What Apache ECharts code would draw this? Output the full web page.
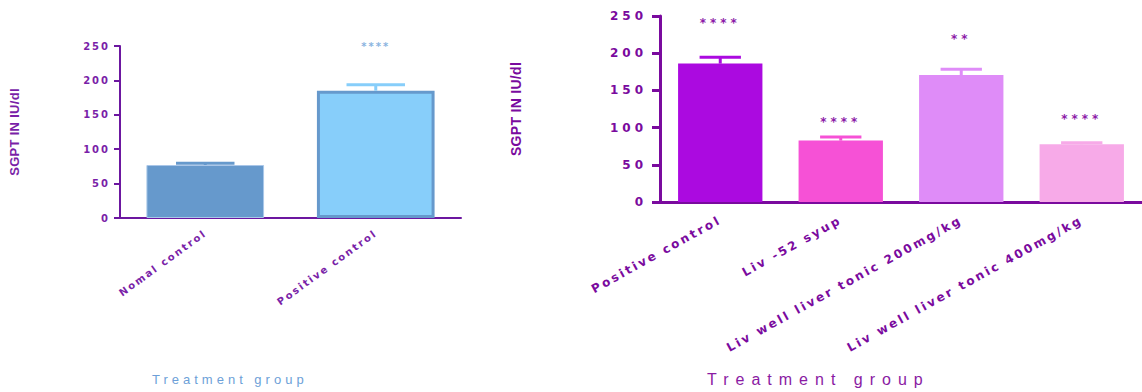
<!DOCTYPE html>
<html><head><meta charset="utf-8">
<script src="https://cdn.jsdelivr.net/npm/echarts@6/dist/echarts.min.js"></script>
<style>
html,body{margin:0;padding:0;background:#fff;width:1142px;height:392px;overflow:hidden;}
#left{position:absolute;left:0;top:0;width:480px;height:392px;letter-spacing:2px;}
#right{position:absolute;left:480px;top:0;width:662px;height:392px;letter-spacing:2.5px;}
</style></head><body>
<div id="left"></div><div id="right"></div>
<script>
// ---- data ----
const leftCategories = ['Nomal control', 'Positive control'];
const leftMeans = [77, 185];
const leftErrors = [2.6, 8.6];
const leftSig = ['', '****'];
const leftSigAt = [0, 250];

const rightCategories = ['Positive control', 'Liv -52 syup', 'Liv well liver tonic 200mg/kg', 'Liv well liver tonic 400mg/kg'];
const rightMeans = [186, 82.5, 170.7, 77.6];
const rightErrors = [8.5, 4.9, 7.7, 2.2];
const rightSig = ['****', '****', '**', '****'];
const rightSigAt = [241, 108, 219, 111];

const yMin = 0, yMax = 250, yStep = 50;
const yTitle = 'SGPT IN IU/dl';
const xTitle = 'Treatment group';

// ---- styles ----
const leftBarColors = ['#6699CC', '#87CEFA'];
const leftAxisColor = '#6c17a0';
const rightBarColors = ['#AB0AE0', '#F651D6', '#DF8CF8', '#F7AAE8'];
const rightAxisColor = '#7a0a9e';

function errRenderer(colors, lw, sigTexts, starColor, starFont) {
  return function (params, api) {
    const i = api.value(0), m = api.value(1), e = api.value(2), s = api.value(3);
    const base = api.coord([i, m]);
    const top = api.coord([i, m + e]);
    const half = api.size([1, 0])[0] * 0.7 * 0.245;
    const col = colors[i];
    const children = [
      { type: 'line', shape: { x1: base[0], y1: base[1], x2: top[0], y2: top[1] }, style: { stroke: col, lineWidth: lw } },
      { type: 'line', shape: { x1: top[0] - half, y1: top[1], x2: top[0] + half, y2: top[1] }, style: { stroke: col, lineWidth: lw } }
    ];
    if (sigTexts[i]) {
      const p = api.coord([i, s]);
      children.push({ type: 'text', x: p[0], y: p[1], style: { text: sigTexts[i], fill: starColor, font: starFont, align: 'center', verticalAlign: 'middle' } });
    }
    return { type: 'group', children };
  };
}

function applySpacing(el, rules) {
  el.querySelectorAll('text').forEach(t => {
    const s = t.textContent;
    for (const [test, sp] of rules) {
      if (test(s)) { t.style.letterSpacing = sp; break; }
    }
  });
}

// ---- left chart ----
const leftEl = document.getElementById('left');
const left = echarts.init(leftEl, null, { renderer: 'svg' });
left.setOption({
  animation: false,
  title: {
    text: xTitle, left: 152, top: 373, padding: 0,
    textStyle: { color: '#6d9fd8', fontSize: 13, fontWeight: 'normal', fontFamily: 'Liberation Sans' }
  },
  grid: { left: 118, right: 19, top: 46, bottom: 174 },
  xAxis: {
    type: 'category', data: leftCategories,
    axisLine: { lineStyle: { color: leftAxisColor, width: 2 } },
    axisTick: { alignWithLabel: true, length: 5, lineStyle: { color: leftAxisColor, width: 2 } },
    axisLabel: { rotate: 36, interval: 0, margin: 14, fontSize: 10, fontWeight: 'bold', fontFamily: 'DejaVu Sans', color: '#7a1fa8' }
  },
  yAxis: {
    type: 'value', min: yMin, max: yMax, interval: yStep,
    name: yTitle, nameLocation: 'middle', nameGap: 99, nameRotate: 90,
    nameTextStyle: { color: '#7a1fa8', fontSize: 13, fontWeight: 'bold', fontFamily: 'Liberation Sans' },
    splitLine: { show: false },
    axisLine: { show: true, lineStyle: { color: leftAxisColor, width: 2 } },
    axisTick: { show: true, length: 6, lineStyle: { color: leftAxisColor, width: 2 } },
    axisLabel: { margin: 10, fontSize: 10, fontWeight: 'bold', fontFamily: 'DejaVu Sans', color: '#7a1fa8' }
  },
  series: [
    {
      type: 'bar', barWidth: '69%',
      data: leftMeans.map((v, i) => ({
        value: v,
        itemStyle: i === 1
          ? { color: leftBarColors[1], borderColor: '#6699CC', borderWidth: 3 }
          : { color: leftBarColors[0], borderColor: '#a9c7e8', borderWidth: 1 }
      }))
    },
    {
      type: 'custom', z: 5,
      renderItem: errRenderer(leftBarColors, 3, leftSig, '#8ab4e0', 'bold 10px DejaVu Sans'),
      data: leftMeans.map((v, i) => [i, v, leftErrors[i], leftSigAt[i]])
    }
  ]
});

// ---- right chart ----
const rightEl = document.getElementById('right');
const right = echarts.init(rightEl, null, { renderer: 'svg' });
right.setOption({
  animation: false,
  title: {
    text: xTitle, left: 227, top: 371, padding: 0,
    textStyle: { color: '#8a1aa3', fontSize: 16, fontWeight: 'normal', fontFamily: 'Liberation Sans' }
  },
  grid: { left: 180, right: -4, top: 16, bottom: 190 },
  xAxis: {
    type: 'category', data: rightCategories,
    axisLine: { lineStyle: { color: rightAxisColor, width: 3 } },
    axisTick: { alignWithLabel: true, length: 6, lineStyle: { color: rightAxisColor, width: 3 } },
    axisLabel: { rotate: 29, interval: 0, margin: 17, fontSize: 12, fontWeight: 'bold', fontFamily: 'DejaVu Sans', color: rightAxisColor }
  },
  yAxis: {
    type: 'value', min: yMin, max: yMax, interval: yStep,
    name: yTitle, nameLocation: 'middle', nameGap: 137, nameRotate: 90,
    nameTextStyle: { color: rightAxisColor, fontSize: 14, fontWeight: 'bold', fontFamily: 'Liberation Sans' },
    splitLine: { show: false },
    axisLine: { show: true, lineStyle: { color: rightAxisColor, width: 3 } },
    axisTick: { show: true, length: 8, lineStyle: { color: rightAxisColor, width: 3 } },
    axisLabel: { margin: 13, fontSize: 12, fontWeight: 'bold', fontFamily: 'DejaVu Sans', color: rightAxisColor }
  },
  series: [
    {
      type: 'bar', barWidth: '70%',
      data: rightMeans.map((v, i) => ({ value: v, itemStyle: { color: rightBarColors[i] } }))
    },
    {
      type: 'custom', z: 5,
      renderItem: errRenderer(rightBarColors, 3, rightSig, '#8c1aa8', 'bold 12px DejaVu Sans'),
      data: rightMeans.map((v, i) => [i, v, rightErrors[i], rightSigAt[i]])
    }
  ]
});

function fixText() {
  applySpacing(leftEl, [
    [s => s === xTitle, '4px'],
    [s => s === yTitle, '0.3px'],
    [s => /^\*+$/.test(s), '2px']
  ]);
  applySpacing(rightEl, [
    [s => s === xTitle, '7px'],
    [s => s === yTitle, '0.3px'],
    [s => /^\d+$/.test(s), '4px'],
    [s => /^\*+$/.test(s), '4px']
  ]);
}
fixText();
left.on('finished', fixText);
right.on('finished', fixText);
</script>
</body></html>
